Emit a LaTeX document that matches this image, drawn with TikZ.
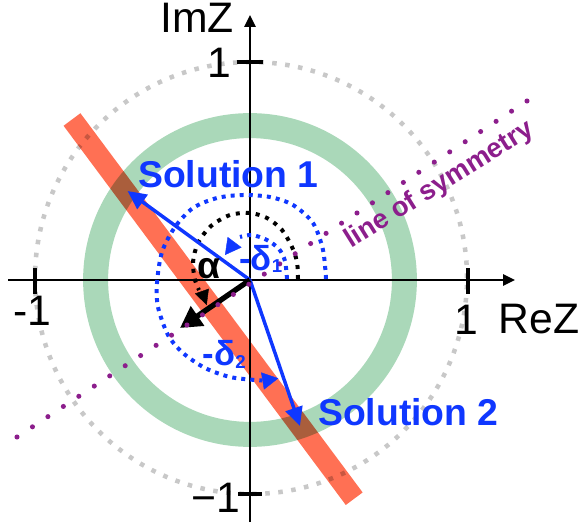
\documentclass[tikz,border=0pt]{standalone}
\usepackage{fontspec}
\setmainfont{Liberation Sans}
\usetikzlibrary{arrows.meta}
\definecolor{myblue}{RGB}{15,55,255}
\definecolor{mypurple}{RGB}{140,30,140}
\definecolor{ringgreen}{RGB}{170,216,185}
\definecolor{bandred}{RGB}{255,112,84}
\definecolor{dotgray}{RGB}{200,200,200}
\tikzset{
 graydots/.style={draw=dotgray, line width=3.4pt, dash pattern=on 3.4pt off 6.4pt},
 ringstyle/.style={draw=ringgreen, line width=18.75pt},
 bandstyle/.style={draw=bandred, line width=15.75pt},
 axisline/.style={line width=1.5pt, -{Triangle[length=9pt,width=8.5pt]}},
 tickmark/.style={line width=3pt},
 solarrow/.style={draw=myblue, line width=2.6pt, -{Triangle[length=14pt,width=13pt]}},
 blackarrow/.style={draw=black, line width=4pt, -{Triangle[length=16pt,width=17pt]}},
 bluedots/.style={draw=myblue, line width=3pt, dash pattern=on 3pt off 3.8pt},
 blackdots/.style={draw=black, line width=3pt, dash pattern=on 3pt off 4.5pt},
 bluehead/.style={draw=myblue, line width=0.3pt, -{Triangle[length=12pt,width=13pt]}},
 blackhead/.style={draw=black, line width=0.3pt, -{Triangle[length=11pt,width=11pt]}},
 symline/.style={draw=mypurple, line width=3.8pt, line cap=round, dash pattern=on 0pt off 13.88pt},
 lab/.style={inner sep=0pt, font=\fontsize{32}{32}\selectfont},
 sol/.style={inner sep=0pt, text=myblue, font=\bfseries\fontsize{28}{28}\selectfont},
 anglab/.style={inner sep=0pt, font=\bfseries\fontsize{26}{26}\selectfont},
}
\begin{document}
\begin{tikzpicture}[x=0.75pt,y=-0.75pt]
\useasboundingbox (0,0) rectangle (584,527);
\coordinate (O) at (250,280);
\coordinate (S1) at (127.5,191);
\coordinate (S2) at (300,426);
\coordinate (A) at (180,328);
\coordinate (B1) at (72,119.5);
\coordinate (B2) at (354.2,498.7);
\coordinate (L1) at (527,101);
\coordinate (L2) at (17,437);

% unit circle and ring
\draw[graydots] (251,278) circle[radius=162pt];
\draw[ringstyle] (O) circle[radius=115.8pt];
\begin{scope}[blend mode=multiply]
\draw[bandstyle] (B1) -- (B2);
\end{scope}

% axes
\draw[axisline] (8,280) -- (515,280);
\draw[axisline] (250,522) -- (250,15);
\draw[tickmark] (35,268) -- (35,294);
\draw[tickmark] (468,268) -- (468,294);
\draw[tickmark] (237,62) -- (263,62);
\draw[tickmark] (238,494) -- (262,494);

% angle arcs
\draw[blackdots] plot[smooth] coordinates {(298,279) (297,262) (292,247) (282,230) (267,218) (250,213) (230,215) (211,226) (198,243) (193,262) (195,280) (199,290)};
\draw[blackhead] (201.7,290.8) -- (206.7,305);
\draw[bluedots] plot[smooth] coordinates {(287,279) (285,261) (279,249) (267,240) (252,235) (240,237)};
\draw[bluehead] (234,243) -- (225,255);
\draw[bluedots] plot[smooth] coordinates {(326,279) (323,250) (313,223) (293,205) (270,197) (243,195) (217,198) (193,208) (175,227) (162,252) (157,283) (158,307) (168,335) (183,353) (205,368) (230,377) (255,380) (262,380.5)};
\draw[bluehead] (262.5,381) -- (278.3,378.3);

% vectors
\draw[solarrow] (O) -- (S1);
\draw[solarrow] (O) -- (S2);
\draw[blackarrow] (O) -- (A);

% line of symmetry
\draw[symline] (L1) -- (L2);

% labels
\node[lab, anchor=base east] (imz) at (234,32.5) {ImZ};
\node[lab, anchor=base west] (rez) at (498.5,333.5) {ReZ};
\node[lab, anchor=base] (pone) at (466.5,334) {1};
\node[lab, anchor=base west] (mone) at (13,325) {-1};
\node[lab, anchor=base east] (ione) at (231,78) {1};
\node[lab, anchor=base east] (imone) at (240,512) {−1};
\node[sol, anchor=base west] (s1lab) at (138,187) {Solution 1};
\node[sol, anchor=base west] (s2lab) at (318,425) {Solution 2};
\node[inner sep=0pt, text=mypurple, font=\bfseries\fontsize{20.5}{20.5}\selectfont, rotate=32, anchor=base west] (sym) at (351,249) {line of symmetry};
\node[anglab, font=\bfseries\fontsize{28}{28}\selectfont] (alab) at (209,269) {α};
\node[anglab, text=myblue, anchor=base west] (d1) at (239,270) {-δ\raisebox{-1.5pt}{\fontsize{14}{14}\selectfont 1}};
\node[anglab, text=myblue, anchor=base west] (d2) at (202.5,365) {-δ\raisebox{-2.5pt}{\fontsize{14}{14}\selectfont 2}};
\end{tikzpicture}
\end{document}
